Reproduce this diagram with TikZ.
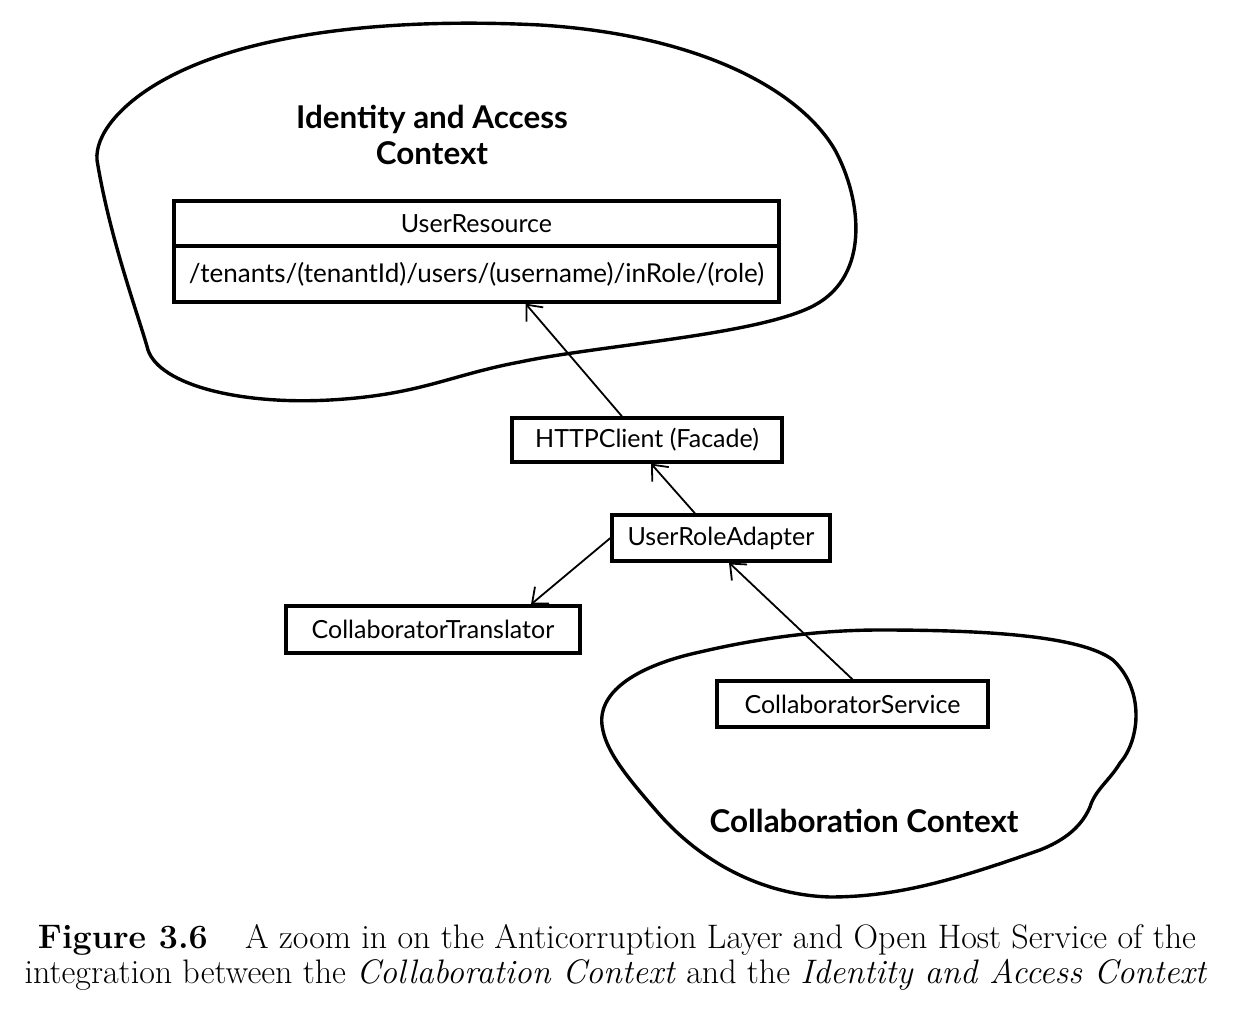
\documentclass[tikz,border=0pt]{standalone}
\usepackage{fontspec}
\newfontfamily\diafont{Lato}
\usetikzlibrary{arrows.meta,calc}
\tikzset{
  blob/.style={draw, line width=1.7pt, line join=round},
  umlbox/.style={draw, line width=1.6pt, inner sep=0pt, font=\diafont\fontsize{12.5}{15}\selectfont},
  ctxtitle/.style={font=\diafont\bfseries\fontsize{15.7}{18}\selectfont, align=center, inner sep=0pt},
  arr/.style={line width=0.9pt, -{Straight Barb[length=6.5pt,width=11pt,line width=0.9pt]}},
  captxt/.style={font=\fontsize{17}{20}\selectfont, anchor=base, inner sep=0pt}
}
\begin{document}
\begin{tikzpicture}[x=0.5pt,y=-0.5pt]
\useasboundingbox (0,0) rectangle (1250,1016);
% Identity and Access blob
\draw[blob] (148,350)
  .. controls (160,385) and (240,405) .. (330,400)
  .. controls (420,395) and (450,375) .. (520,362)
  .. controls (600,345) and (760,335) .. (815,305)
  .. controls (870,275) and (862,200) .. (835,150)
  .. controls (800,90) and (700,35) .. (540,25)
  .. controls (400,18) and (250,30) .. (160,82)
  .. controls (120,105) and (95,135) .. (97,160)
  .. controls (110,240) and (140,320) .. (148,350) -- cycle;
% Collaboration blob
\draw[blob] (602,725)
  .. controls (598,690) and (640,665) .. (700,652)
  .. controls (760,638) and (820,630) .. (880,630)
  .. controls (980,630) and (1080,635) .. (1113,660)
  .. controls (1145,690) and (1140,740) .. (1120,763)
  .. controls (1110,780) and (1095,790) .. (1090,807)
  .. controls (1080,830) and (1060,842) .. (1040,850)
  .. controls (960,878) and (900,897) .. (830,897)
  .. controls (760,895) and (700,860) .. (660,815)
  .. controls (625,775) and (605,750) .. (602,725) -- cycle;
% titles
\node[ctxtitle] (iatitle) at (432,135) {Identity and Access\\Context};
\node[ctxtitle] (cctitle) at (864,821) {Collaboration Context};
% boxes
\node[umlbox, minimum width=302.5pt, minimum height=22.5pt] (urtop) at (476.5,223.5) {UserResource};
\node[umlbox, minimum width=302.5pt, minimum height=28pt, font=\diafont\fontsize{13}{15}\selectfont] (urbot) at (476.5,274) {/tenants/(tenantId)/users/(username)/inRole/(role)};
\node[umlbox, minimum width=135pt, minimum height=22pt] (http) at (647,440) {HTTPClient (Facade)};
\node[umlbox, minimum width=109pt, minimum height=23pt] (ura) at (721,538) {UserRoleAdapter};
\node[umlbox, minimum width=147pt, minimum height=23.5pt] (ct) at (433,629.5) {CollaboratorTranslator};
\node[umlbox, minimum width=135.5pt, minimum height=23pt] (cs) at (852.5,704) {CollaboratorService};
% connectors
\draw[arr] ($(http.north)+(-25,0)$) -- ($(urbot.south)+(49,0)$);
\draw[arr] ($(ura.north)+(-26,0)$) -- ($(http.south)+(4,0)$);
\draw[arr] (ura.west) -- ($(ct.north)+(98,0)$);
\draw[arr] (cs.north) -- ($(ura.south)+(8,0)$);
% caption
\node[captxt] (cap1) at (617,948) {\textbf{Figure 3.6}\hspace{1.1em}A zoom in on the Anticorruption Layer and Open Host Service of the};
\node[captxt] (cap2) at (616,983) {integration between the \textit{Collaboration Context} and the \textit{Identity and Access Context}};
\end{tikzpicture}
\end{document}
